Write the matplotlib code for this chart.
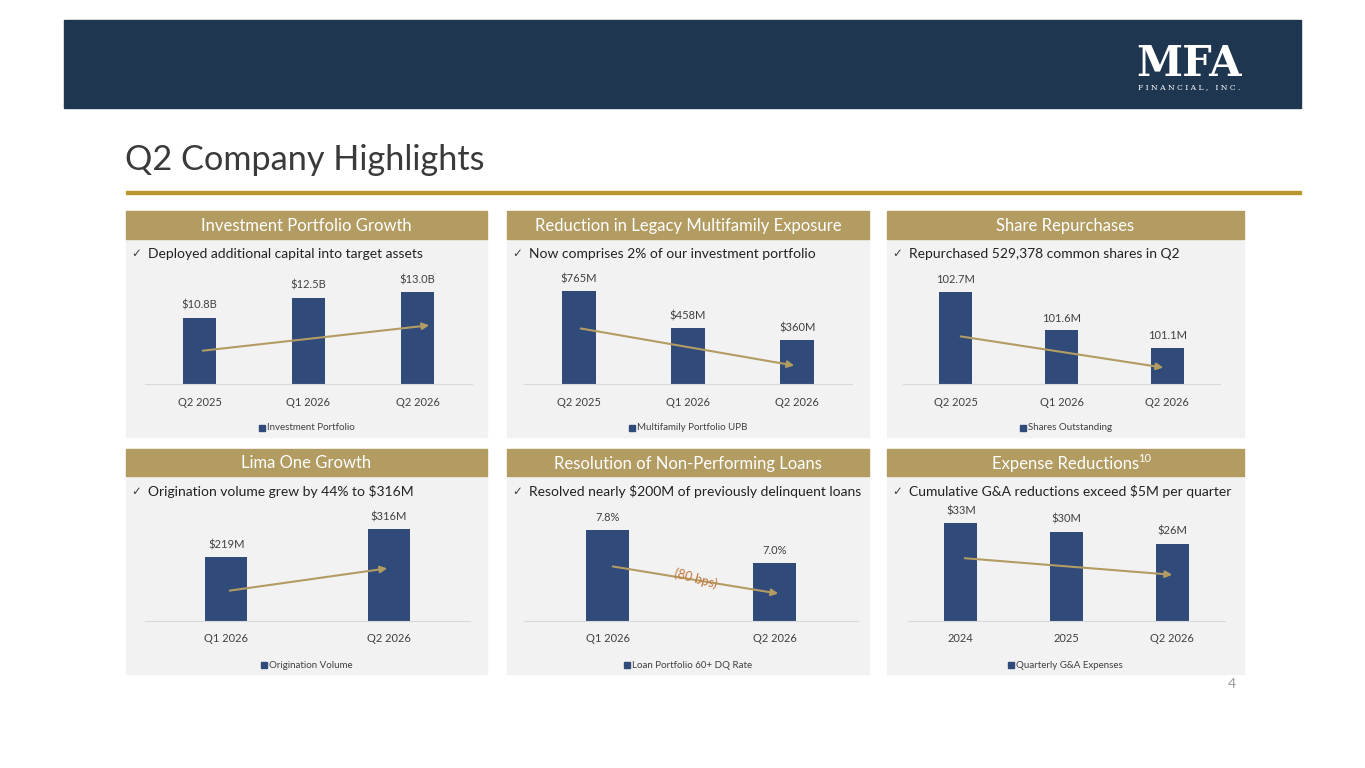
import matplotlib
matplotlib.use("Agg")
import matplotlib.pyplot as plt
from matplotlib.patches import Rectangle, FancyArrowPatch

W, H = 1365, 768
plt.rcParams['font.family'] = ['Lato', 'DejaVu Sans']

NAVY = '#1f3650'
GOLD = '#b39c62'
BAR = '#304a7a'
BG = '#f2f2f2'
TXT = '#404040'

titles = ["Investment Portfolio Growth", "Reduction in Legacy Multifamily Exposure", "Share Repurchases",
          "Lima One Growth", "Resolution of Non-Performing Loans", "Expense Reductions"]
bullets = ["Deployed additional capital into target assets", "Now comprises 2% of our investment portfolio",
           "Repurchased 529,378 common shares in Q2", "Origination volume grew by 44% to $316M",
           "Resolved nearly $200M of previously delinquent loans", "Cumulative G&A reductions exceed $5M per quarter"]
legends = ["Investment Portfolio", "Multifamily Portfolio UPB", "Shares Outstanding",
           "Origination Volume", "Loan Portfolio 60+ DQ Rate", "Quarterly G&A Expenses"]
cats1 = ["Q2 2025", "Q1 2026", "Q2 2026"]
cats2 = ["Q1 2026", "Q2 2026"]
cats6 = ["2024", "2025", "Q2 2026"]
invest = [10.8, 12.5, 13.0]
multifam = [765, 458, 360]
shares = [102.7, 101.6, 101.1]
origination = [219, 316]
dq_rate = [7.8, 7.0]
gna = [33, 30, 26]
labels = [["$10.8B", "$12.5B", "$13.0B"], ["$765M", "$458M", "$360M"], ["102.7M", "101.6M", "101.1M"],
          ["$219M", "$316M"], ["7.8%", "7.0%"], ["$33M", "$30M", "$26M"]]
series = [invest, multifam, shares, origination, dq_rate, gna]
catsets = [cats1, cats1, cats1, cats2, cats2, cats6]
# (axis baseline value, pixels per unit)
scales = [(5.2, 11.8), (0, 0.1215), (100.07, 35.0), (0, 0.29), (5.59, 41.25), (0, 2.97)]

fig = plt.figure(figsize=(W / 100, H / 100), dpi=100)
fig.patch.set_facecolor('white')

def fx(x): return x / W
def fy(y): return 1 - y / H

def rect(x0, y0, x1, y1, c, z=0):
    fig.patches.append(Rectangle((fx(x0), fy(y1)), (x1 - x0) / W, (y1 - y0) / H,
                                 transform=fig.transFigure, color=c, zorder=z))

rect(64, 20, 1301, 108, NAVY)
fig.text(fx(1189), fy(64), "MFA", color='white', fontsize=30, family='DejaVu Serif',
         ha='center', va='center', fontweight='bold')
fig.text(fx(1189), fy(87), "F I N A N C I A L ,   I N C .", color='white', fontsize=5.5,
         family='DejaVu Serif', ha='center', va='center')
fig.text(fx(125), fy(160), "Q2 Company Highlights", color='#3a3a3a', fontsize=24.7,
         ha='left', va='center')
rect(126, 191, 1301, 194, '#b8982e')
fig.text(fx(1232), fy(684), "4", color='#999999', fontsize=10, ha='center', va='center')

cols = [(126, 487), (507, 869), (887, 1244)]
rows = [(211, 239, 437, 384), (449, 476, 674, 621)]
axspans = [(145, 472), (524, 852), (903, 1220), (145, 470), (524, 858), (908, 1225)]
arrows = [((200, 351), (432, 325)), ((578, 328), (797, 366)), ((958, 336), (1166, 368)),
          ((227, 591), (390, 568)), ((610, 566), (781, 594)), ((962, 558), (1175, 575))]

fig.canvas.draw()
renderer = fig.canvas.get_renderer()

for i in range(6):
    r, c = divmod(i, 3)
    x0, x1 = cols[c]
    hy0, hy1, by1, base = rows[r]
    rect(x0, hy1, x1, by1, BG)
    rect(x0, hy0, x1, hy1, GOLD)
    t = fig.text(fx((x0 + x1) / 2), fy((hy0 + hy1) / 2 + 1), titles[i], color='white',
                 fontsize=12, ha='center', va='center')
    if i == 5:
        bb = t.get_window_extent(renderer)
        fig.text(bb.x1 / W - 0.001, fy(458), "10", color='white', fontsize=8, ha='left', va='center')
    fig.text(fx(x0 + 5), fy(hy1 + 15), "\u2713", color=TXT, fontsize=8.5, ha='left', va='center',
             family=['DejaVu Sans'])
    fig.text(fx(x0 + 22), fy(hy1 + 15), bullets[i], color='#222222', fontsize=10, ha='left', va='center')

    ax0, ax1 = axspans[i]
    ax = fig.add_axes([fx(ax0), fy(base), (ax1 - ax0) / W, 120 / H])
    ax.set_zorder(3)
    ax.patch.set_alpha(0)
    n = len(series[i])
    b0, ppu = scales[i]
    xs = list(range(n))
    bw = 0.31 if n == 3 else 0.26
    ax.bar(xs, [v - b0 for v in series[i]], width=bw, color=BAR, bottom=b0)
    ax.set_xlim(-0.5, n - 0.5)
    ax.set_ylim(b0, b0 + 120 / ppu)
    for sp in ['top', 'left', 'right']:
        ax.spines[sp].set_visible(False)
    ax.spines['bottom'].set_color('#d9d9d9')
    ax.set_yticks([])
    ax.set_xticks(xs)
    ax.set_xticklabels(catsets[i], fontsize=8, color='#404040')
    ax.tick_params(axis='x', length=0, pad=9)
    for xv, v, lb in zip(xs, series[i], labels[i]):
        ax.annotate(lb, (xv, v), xytext=(0, 5), textcoords='offset points', ha='center',
                    va='bottom', fontsize=8, color='#404040')
    (sx, sy), (ex, ey) = arrows[i]
    arr = FancyArrowPatch((fx(sx), fy(sy)), (fx(ex), fy(ey)), transform=fig.transFigure,
                          arrowstyle='-|>', mutation_scale=10, color=GOLD, lw=1.5, zorder=5)
    fig.add_artist(arr)
    lx = (x0 + x1) / 2
    ly = by1 - 9
    tl = fig.text(fx(lx + 4), fy(ly), legends[i], fontsize=7, color='#404040', ha='center', va='center')
    bb = tl.get_window_extent(renderer)
    lft = bb.x0
    rect(lft - 8, ly - 3, lft - 2, ly + 3, BAR, z=1)

fig.text(fx(696), fy(579), "(80 bps)", color='#c4773b', fontsize=9, rotation=-15,
         ha='center', va='center', zorder=6)

fig.savefig("out.png", dpi=100, facecolor='white')
